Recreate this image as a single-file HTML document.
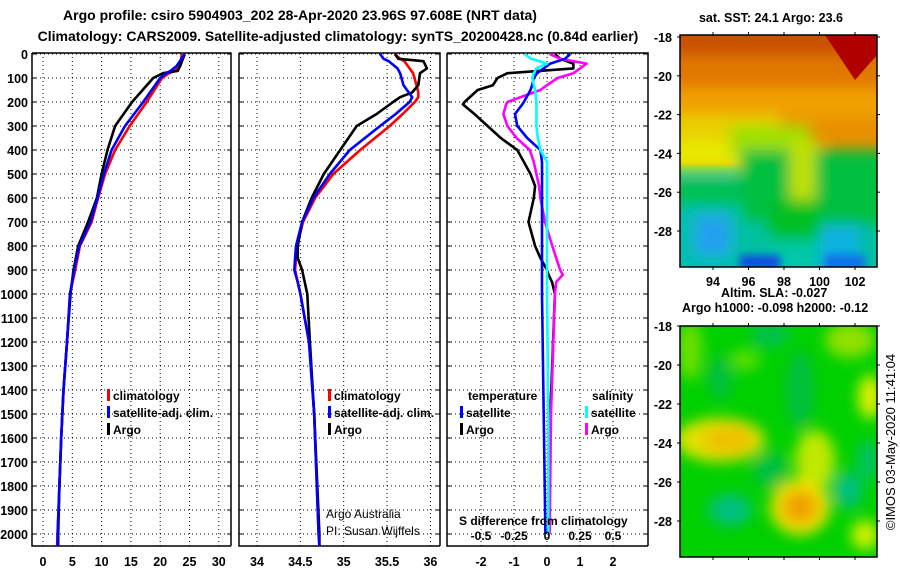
<!DOCTYPE html>
<html><head><meta charset="utf-8"><style>
body{margin:0;background:#fff;}
svg{display:block;font-family:"Liberation Sans",sans-serif;}
.b{font-weight:bold;font-size:12.5px;}
.s{font-weight:bold;font-size:12px;}
.t{font-weight:bold;font-size:14px;}
</style></head><body>
<svg id="chart" width="900" height="580" viewBox="0 0 900 580">
<defs>
<filter id="bl" x="-50%" y="-50%" width="200%" height="200%"><feGaussianBlur stdDeviation="7"/></filter>
<filter id="bl2" x="-50%" y="-50%" width="200%" height="200%"><feGaussianBlur stdDeviation="4"/></filter>
<clipPath id="c1"><rect x="680" y="35" width="197" height="232"/></clipPath>
<clipPath id="c2"><rect x="680" y="326" width="197" height="231"/></clipPath>
</defs>
<text class="t" x="300" y="20" text-anchor="middle">Argo profile: csiro 5904903_202 28-Apr-2020 23.96S 97.608E (NRT data)</text>
<text class="t" x="338" y="41" text-anchor="middle">Climatology: CARS2009. Satellite-adjusted climatology: synTS_20200428.nc (0.84d earlier)</text>
<g id="panels"></g>
<text class="b" x="771" y="22" text-anchor="middle">sat. SST: 24.1 Argo: 23.6</text>
<g clip-path="url(#c1)">
<rect x="680" y="35" width="197" height="232" fill="#00c0a0"/>
<rect x="680" y="35" width="197" height="130" fill="#e89000"/>
<g filter="url(#bl)">
<rect x="670" y="25" width="220" height="35" fill="#c85000"/>
<rect x="670" y="55" width="220" height="35" fill="#e07800"/>
<rect x="670" y="88" width="220" height="30" fill="#f0a000"/>
<rect x="670" y="115" width="110" height="30" fill="#e8d000"/>
<rect x="670" y="140" width="100" height="30" fill="#e8e800"/>
<rect x="730" y="125" width="80" height="30" fill="#a0e000"/>
<rect x="740" y="150" width="60" height="70" fill="#00c040"/>
<rect x="790" y="140" width="30" height="60" fill="#c0e000"/>
<rect x="815" y="150" width="80" height="75" fill="#00c040"/>
<rect x="670" y="180" width="75" height="30" fill="#00c050"/>
<rect x="670" y="205" width="70" height="70" fill="#00c0b0"/>
<rect x="695" y="215" width="35" height="40" fill="#20a0f0"/>
<rect x="770" y="200" width="50" height="40" fill="#00c020"/>
<rect x="820" y="225" width="40" height="50" fill="#10b0e0"/>
<rect x="768" y="240" width="50" height="40" fill="#00c8a8"/>
</g>
<polygon points="825,35 877,35 877,55 855,80" fill="#b00000"/>
<rect x="740" y="255" width="40" height="15" fill="#1050e0" filter="url(#bl2)"/>
<rect x="825" y="255" width="40" height="15" fill="#1070e8" filter="url(#bl2)"/>
</g>
<rect x="680" y="35" width="197" height="232" fill="none" stroke="#000" stroke-width="1.5"/>
<g id="map1axes"></g>
<text class="b" x="721" y="297">Altim. SLA: -0.027</text>
<text class="b" x="682" y="312">Argo h1000: -0.098 h2000: -0.12</text>
<g clip-path="url(#c2)">
<rect x="680" y="326" width="197" height="231" fill="#00d000"/>
<g filter="url(#bl)">
<ellipse cx="690" cy="350" rx="12" ry="30" fill="#70e000"/>
<ellipse cx="770" cy="335" rx="20" ry="12" fill="#00c050"/>
<ellipse cx="850" cy="340" rx="25" ry="18" fill="#90e000"/>
<ellipse cx="745" cy="360" rx="15" ry="10" fill="#60e000"/>
<ellipse cx="720" cy="378" rx="12" ry="22" fill="#00c040"/>
<ellipse cx="800" cy="390" rx="14" ry="40" fill="#00c040"/>
<ellipse cx="870" cy="397" rx="12" ry="22" fill="#e0f000"/>
<ellipse cx="720" cy="440" rx="45" ry="22" fill="#e0e000"/>
<ellipse cx="728" cy="440" rx="25" ry="14" fill="#f0c000"/>
<ellipse cx="815" cy="460" rx="20" ry="30" fill="#c0e800"/>
<ellipse cx="800" cy="507" rx="30" ry="28" fill="#f0e000"/>
<ellipse cx="800" cy="507" rx="18" ry="16" fill="#f0a000"/>
<ellipse cx="730" cy="510" rx="22" ry="16" fill="#00c080"/>
<ellipse cx="848" cy="490" rx="15" ry="18" fill="#00c080"/>
<ellipse cx="868" cy="460" rx="10" ry="20" fill="#00c070"/>
<ellipse cx="865" cy="535" rx="14" ry="15" fill="#d0f000"/>
<ellipse cx="770" cy="470" rx="18" ry="18" fill="#00c040"/>
</g>
</g>
<rect x="680" y="326" width="197" height="231" fill="none" stroke="#000" stroke-width="1.5"/>
<g id="map2axes"></g>
<text x="895" y="442" font-size="13" transform="rotate(-90 895 442)" text-anchor="middle">©IMOS 03-May-2020 11:41:04</text>
</svg>
<script>
const tempDepths = [0,50,70,80,100,200,300,400,500,600,700,800,900,1000,1200,1400,1600,1800,2000,2050];
const tempArgo   = [24.2,23.4,23,20.5,18.8,15.2,12.3,11,10,9.2,7.7,6,5.2,4.7,4.1,3.5,3.1,2.8,2.6,2.6];
const tempClim   = [23.7,23.4,22.5,21.5,20.3,17.7,14.8,12.3,10.6,9.4,8.3,6.3,5.5,4.6,4.1,3.5,3.1,2.8,2.5,2.4];
const tempSat    = [24.2,22.8,21.8,21,20,17.1,14,11.7,10.4,9.3,8.1,6.2,5.3,4.6,4.1,3.5,3.1,2.8,2.5,2.5];
const salDepths  = [0,20,30,60,80,130,160,180,200,250,300,400,500,600,700,800,850,900,950,1000,1200,1500,2000,2050];
const salArgo    = [35.59,35.63,35.92,35.96,35.88,35.86,35.79,35.65,35.57,35.38,35.15,34.96,34.77,34.63,34.52,34.47,34.47,34.52,34.55,34.58,34.61,34.66,34.72,34.72];
const salClim    = [35.59,35.65,35.7,35.76,35.8,35.84,35.86,35.86,35.82,35.68,35.53,35.19,34.88,34.67,34.53,34.46,34.45,34.44,34.47,34.5,34.6,34.66,34.71,34.72];
const salSat     = [35.42,35.46,35.52,35.62,35.65,35.69,35.75,35.79,35.76,35.6,35.42,35.07,34.84,34.65,34.52,34.45,34.44,34.43,34.47,34.5,34.6,34.66,34.71,34.72];
const dDepths    = [0,20,40,60,80,100,130,150,200,210,250,300,350,400,450,500,550,600,700,800,850,900,920,950,1000,1500,2000];
const dTempArgo  = [0.24,0.4,0.8,0.8,-1.2,-1.5,-1.64,-2.1,-2.5,-2.55,-2.2,-1.8,-1.4,-0.9,-0.7,-0.5,-0.36,-0.4,-0.56,-0.36,-0.2,0,0.05,0.15,0.24,0.1,0.05];
const dTempSat   = [0.7,0.55,0.1,-0.1,-0.3,-0.4,-0.45,-0.5,-0.7,-0.75,-0.97,-0.9,-0.6,-0.2,-0.15,-0.15,-0.15,-0.15,-0.15,-0.15,-0.15,-0.15,-0.15,-0.15,-0.15,-0.1,-0.05];
const dSalSat    = [-0.17,-0.12,0,-0.08,-0.1,-0.11,-0.1,-0.09,-0.08,-0.08,-0.08,-0.08,-0.07,-0.05,0,0,0,0,0,0,0,0,0,0,0,0.01,0.01];
const dSalArgo   = [0.02,0.1,0.3,0.25,0.2,0.08,0.0,-0.05,-0.3,-0.31,-0.33,-0.3,-0.23,-0.13,-0.1,-0.08,-0.06,-0.05,-0.015,0.04,0.07,0.1,0.12,0.07,0.06,0.03,0.02];
const depthTicks = [0,100,200,300,400,500,600,700,800,900,1000,1100,1200,1300,1400,1500,1600,1700,1800,1900,2000];
const tTicks = [0,5,10,15,20,25,30];
const sTicks = [34,34.5,35,35.5,36];
const sTickLabels = ["34","34.5","35","35.5","36"];
const dTicks = [-2,-1,0,1,2];
const dsTickLabels = ["-0.5","-0.25","0","0.25","0.5"];
const latTicks = [-18,-20,-22,-24,-26,-28];
const lonTicks = [94,96,98,100,102];

const NS="http://www.w3.org/2000/svg";
const g=document.getElementById('panels');
function mk(tag,attrs,parent){const e=document.createElementNS(NS,tag);for(const k in attrs)e.setAttribute(k,attrs[k]);(parent||g).appendChild(e);return e;}
const yD=d=>54+d*0.24;
const xT=t=>43+t*5.86;
const xS=s=>257+(s-34)*86.7;
const xDT=v=>547+v*33;
const xDS=v=>547+v*132;

const panels=[{x0:32,x1:231,name:'temperature-panel',ticks:tTicks,labels:tTicks.map(String),fx:xT},
{x0:239,x1:440,name:'salinity-panel',ticks:sTicks,labels:sTickLabels,fx:xS},
{x0:447,x1:648,name:'difference-panel',ticks:dTicks,labels:dTicks.map(String),fx:xDT}];
const yTop=53,yBot=546;
panels.forEach(p=>{
  const pg=mk('g',{});
  
  
  p.ticks.forEach((t,i)=>{
    const x=p.fx(t);
    const l=mk('line',{x1:x,x2:x,y1:yTop,y2:yBot,stroke:'#000','stroke-width':1,'stroke-dasharray':'1 3'},pg);
    
    
    const tx=mk('text',{x:x,y:566,'text-anchor':'middle',class:'b'},pg);
    tx.textContent=p.labels[i];
    
    
  });
  depthTicks.forEach(d=>{
    const y=yD(d);
    const l=mk('line',{x1:p.x0,x2:p.x1,y1:y,y2:y,stroke:'#000','stroke-width':1,'stroke-dasharray':'1 3'},pg);
    
    
    mk('line',{x1:p.x0,x2:p.x0+4,y1:y,y2:y,stroke:'#000'},pg);
    mk('line',{x1:p.x1-4,x2:p.x1,y1:y,y2:y,stroke:'#000'},pg);
  });
  const fr=mk('path',{d:`M${p.x0},${yTop}H${p.x1}V${yBot}M${p.x0},${yTop}V${yBot}H${p.x1}`,fill:'none',stroke:'#000','stroke-width':1.5},pg);
  
  
});
depthTicks.forEach(d=>{
  const t=mk('text',{x:28,y:yD(d)+5,'text-anchor':'end',class:'b'});
  t.textContent=d;
  
  
});
function line(depths,vals,fx,color,name){
  const pts=depths.map((d,i)=>fx(vals[i]).toFixed(1)+','+yD(d).toFixed(1)).join(' ');
  const e=mk('polyline',{points:pts,fill:'none',stroke:color,'stroke-width':2.6,'stroke-linejoin':'round'});
  
  
}
line(tempDepths,tempClim,xT,'#ff0000','temp-climatology-line');
line(tempDepths,tempArgo,xT,'#000000','temp-argo-line');
line(tempDepths,tempSat,xT,'#0000ff','temp-satellite-line');
line(salDepths,salClim,xS,'#ff0000','sal-climatology-line');
line(salDepths,salArgo,xS,'#000000','sal-argo-line');
line(salDepths,salSat,xS,'#0000ff','sal-satellite-line');
line(dDepths,dTempArgo,xDT,'#000000','tdiff-argo-line');
line(dDepths,dSalArgo,xDS,'#ff00ff','sdiff-argo-line');
line(dDepths,dTempSat,xDT,'#0000ff','tdiff-satellite-line');
line(dDepths,dSalSat,xDS,'#00ffff','sdiff-satellite-line');

function leg(x,y,color,label){
  const m=mk('rect',{x:x,y:y-11,width:3,height:12,fill:color});
  
  
  const t=mk('text',{x:x+6,y:y,class:'s'});
  t.textContent=label;
  
  
}
function txt(x,y,s,name,cls,anchor){
  const t=mk('text',{x:x,y:y,class:cls||'s','text-anchor':anchor||'start'});
  t.textContent=s;
  
  
  return t;
}
leg(107,400,'#ff0000','climatology');leg(107,417,'#0000ff','satellite-adj. clim.');leg(107,434,'#000','Argo');
leg(328,400,'#ff0000','climatology');leg(328,417,'#0000ff','satellite-adj. clim.');leg(328,434,'#000','Argo');
txt(468,400,'temperature','legend-temperature-header');
txt(592,400,'salinity','legend-salinity-header');
leg(460,417,'#0000ff','satellite');leg(460,434,'#000','Argo');
leg(585,417,'#00ffff','satellite');leg(585,434,'#ff00ff','Argo');
txt(459,525,'S difference from climatology','sdiff-axis-title');
dTicks.forEach((t,i)=>txt(xDT(t),540,dsTickLabels[i],'sdiff-tick-label','s','middle'));
const a1=txt(326,518,'Argo Australia','credit-argo-australia','x');a1.setAttribute('font-size','12');
const a2=txt(326,535,'PI: Susan Wijffels','credit-pi','x');a2.setAttribute('font-size','12');

function mapAxes(gid,y0,y1,latTop,latStep,showLon){
  const ag=document.getElementById(gid);
  latTicks.forEach(l=>{
    const y=latTop+(-18-l)*latStep;
    mk('line',{x1:677,x2:681,y1:y,y2:y,stroke:'#000'},ag);
    mk('line',{x1:876,x2:880,y1:y,y2:y,stroke:'#000'},ag);
    const t=mk('text',{x:672,y:y+5,'text-anchor':'end',class:'b'},ag);
    t.textContent=l;
    
    
  });
  lonTicks.forEach(l=>{
    const x=713+(l-94)*17.75;
    mk('line',{x1:x,x2:x,y1:y0-3,y2:y0+1,stroke:'#000'},ag);
    mk('line',{x1:x,x2:x,y1:y1-1,y2:y1+3,stroke:'#000'},ag);
    if(showLon){
      const t=mk('text',{x:x,y:y1+19,'text-anchor':'middle',class:'b'},ag);
      t.textContent=l;
      
      
    }
  });
}
mapAxes('map1axes',35,267,37,19.4,true);
mapAxes('map2axes',326,557,326,19.5,false);
</script>
</body></html>
